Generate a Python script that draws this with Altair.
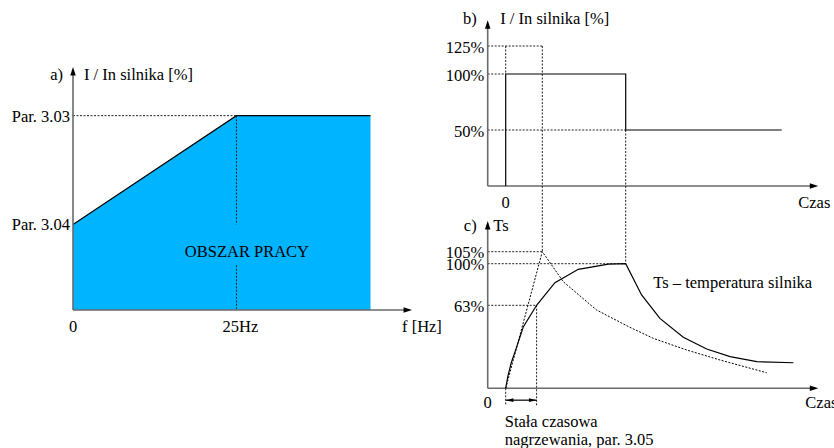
import altair as alt
import pandas as pd

FONT = "Liberation Serif"
FONT_SIZE = 16.5
INK = "black"
AXIS_GREY = "#6a6a6a"
FILL = "#00B4FF"
DOTS = [2, 1.5]

# ---------------- a) operating area: current limit vs. frequency ----------------
a_freq = [0, 25, 45.5]            # Hz
a_limit = [44, 100, 100]          # % of motor In (Par. 3.04 -> Par. 3.03)
a_tick_values = [100, 44]
a_tick_labels = ["Par. 3.03", "Par. 3.04"]
a_knee = 25
a_axis_f_end = 51.85
a_axis_i_end = 125

# ---------------- b) motor current over time ----------------
b_time = [0, 0, 40, 40, 92]
b_current = [0, 100, 100, 50, 50]
b_overload = 125
b_overload_end = 12.2
b_tick_values = [125, 100, 50]
b_tick_labels = ["125%", "100%", "50%"]

# ---------------- c) motor temperature over time ----------------
c_time = [0, 0.7, 1.8, 3.7, 5.9, 10.3, 16.4, 24.2, 34.2, 40,
          45.3, 51.4, 59.2, 67, 74.8, 83.7, 95.9]
c_temp = [0, 8.8, 19, 31.6, 46.8, 63, 83.1, 95, 99.7, 100,
          72.2, 53.1, 38.7, 29.8, 24, 20.2, 19.4]
c_over_time = [0, 12.2, 19.2, 30.3, 41.4, 49.2, 60.3, 71.4, 87]
c_over_temp = [0, 105, 84, 59.4, 46.3, 37.9, 29.1, 21.5, 11.8]
c_tau = 10.3
c_tick_values = [105, 100, 63]
c_tick_labels = ["105%", "100%", "63%"]

t_axis_start, t_axis_end = -6, 104.2
b_axis_top = 148
c_axis_top = 126

# ---------------- scales (each panel has its own placement) ----------------
XA = alt.Scale(domain=[0, 52], range=[73, 413], nice=False, zero=False)
YA = alt.Scale(domain=[0, 124], range=[310, 69], nice=False, zero=False)
XT = alt.Scale(domain=[-6, 104], range=[487.7, 817.7], nice=False, zero=False)
YB = alt.Scale(domain=[0, 150], range=[186, 18], nice=False, zero=False)
YC = alt.Scale(domain=[-16, 0, 63, 100, 105, 150],
               range=[409.4, 388.3, 305.3, 263.7, 251.7, 186], nice=False, zero=False)

UP = "M0,0L-0.65,2L0.65,2Z"
RIGHT = "M0,0L-2,-0.65L-2,0.65Z"
LEFT_SMALL = "M0,0L2,-0.47L2,0.47Z"
RIGHT_SMALL = "M0,0L-2,-0.47L-2,0.47Z"


def X(scale, field="x"):
    return alt.X(f"{field}:Q", scale=scale, axis=None)


def Y(scale, field="y"):
    return alt.Y(f"{field}:Q", scale=scale, axis=None)


def segments(rows, xs, ys, **style):
    df = pd.DataFrame(rows, columns=["x", "y", "x2", "y2"])
    return alt.Chart(df).mark_rule(**style).encode(
        x=X(xs), y=Y(ys), x2="x2:Q", y2="y2:Q")


def dotted(rows, xs, ys):
    return segments(rows, xs, ys, color="#222", strokeWidth=1, strokeDash=DOTS)


def axes(rows, xs, ys):
    return segments(rows, xs, ys, color=AXIS_GREY, strokeWidth=1.6)


def polyline(xv, yv, xs, ys, dash=None):
    df = pd.DataFrame({"x": xv, "y": yv, "i": range(len(xv))})
    kw = dict(color=INK, strokeWidth=1.2)
    if dash:
        kw["strokeDash"] = dash
        kw["strokeWidth"] = 1
    return alt.Chart(df).mark_line(**kw).encode(x=X(xs), y=Y(ys), order="i:Q")


def arrows(points, shape, xs, ys, size=72):
    df = pd.DataFrame(points, columns=["x", "y"])
    return alt.Chart(df).mark_point(shape=shape, size=size, filled=True, color=INK,
                                    opacity=1, strokeWidth=0).encode(x=X(xs), y=Y(ys))


def text(xv, yv, labels, xs, ys, align="left", dx=0, dy=0):
    df = pd.DataFrame({"x": xv, "y": yv, "t": labels})
    return alt.Chart(df).mark_text(font=FONT, fontSize=FONT_SIZE, color=INK, align=align,
                                   baseline="middle", dx=dx, dy=dy).encode(
        x=X(xs), y=Y(ys), text="t:N")


layers = []

# ---- panel a ----
area_df = pd.DataFrame({"x": a_freq, "y": a_limit, "base": [0] * len(a_freq)})
layers.append(alt.Chart(area_df).mark_area(color=FILL, opacity=1).encode(
    x=X(XA), y=Y(YA), y2="base:Q"))
layers.append(polyline(a_freq, a_limit, XA, YA))
layers.append(dotted([(0, a_limit[-1], a_knee, a_limit[-1]),
                      (a_knee, 100, a_knee, 44),
                      (a_knee, 23, a_knee, 0)], XA, YA))
layers.append(axes([(0, 0, 0, a_axis_i_end - 3), (0, 0, a_axis_f_end - 1, 0)], XA, YA))
layers.append(arrows([(0, a_axis_i_end)], UP, XA, YA))
layers.append(arrows([(a_axis_f_end, 0)], RIGHT, XA, YA))
layers.append(text([0], [121], ["a)"], XA, YA, align="right", dx=-10))
layers.append(text([0], [121], ["I / In silnika [%]"], XA, YA, dx=11))
layers.append(text([0] * 2, a_tick_values, a_tick_labels, XA, YA, align="right", dx=-3, dy=1))
layers.append(text([0], [0], ["0"], XA, YA, align="center", dy=17))
layers.append(text([a_knee], [0], ["25Hz"], XA, YA, align="center", dx=4, dy=17))
layers.append(text([a_axis_f_end], [0], ["f [Hz]"], XA, YA, dx=-10, dy=17))
layers.append(text([26.6], [30], ["OBSZAR PRACY"], XA, YA, align="center"))

# ---- panel b ----
layers.append(dotted([(t_axis_start, b_overload, b_overload_end, b_overload),
                      (t_axis_start, 100, 0, 100),
                      (t_axis_start, 50, 40, 50),
                      (0, b_overload, 0, 100),
                      (b_overload_end, b_overload, b_overload_end, 0),
                      (40, 50, 40, 0)], XT, YB))
layers.append(axes([(t_axis_start, 0, t_axis_start, b_axis_top - 3),
                    (t_axis_start, 0, t_axis_end - 1, 0)], XT, YB))
layers.append(polyline(b_time, b_current, XT, YB))
layers.append(arrows([(t_axis_start, b_axis_top)], UP, XT, YB))
layers.append(arrows([(t_axis_end, 0)], RIGHT, XT, YB))
layers.append(text([t_axis_start], [b_axis_top], ["b)"], XT, YB, align="right", dx=-11, dy=-1))
layers.append(text([t_axis_start], [b_axis_top], ["I / In silnika [%]"], XT, YB, dx=12.5, dy=-1))
layers.append(text([t_axis_start] * 3, b_tick_values, b_tick_labels, XT, YB,
                   align="right", dx=-3.5, dy=1.5))
layers.append(text([0], [0], ["0"], XT, YB, align="center", dy=17))
layers.append(text([t_axis_end], [0], ["Czas"], XT, YB, align="center", dx=-4, dy=17))

# ---- panel c ----
layers.append(dotted([(t_axis_start, 105, b_overload_end, 105),
                      (t_axis_start, 100, 40, 100),
                      (t_axis_start, 63, c_tau, 63),
                      (b_overload_end, 150, b_overload_end, 105),
                      (40, 150, 40, 100),
                      (c_tau, 63, c_tau, -13),
                      (0, 0, 0, -13)], XT, YC))
layers.append(axes([(t_axis_start, 0, t_axis_start, c_axis_top - 3),
                    (t_axis_start, 0, t_axis_end - 1, 0)], XT, YC))
layers.append(polyline(c_over_time, c_over_temp, XT, YC, dash=DOTS))
layers.append(polyline(c_time, c_temp, XT, YC))
layers.append(arrows([(t_axis_start, c_axis_top)], UP, XT, YC))
layers.append(arrows([(t_axis_end, 0)], RIGHT, XT, YC))
layers.append(segments([(0, -9, c_tau, -9)], XT, YC, color=INK, strokeWidth=1.2))
layers.append(arrows([(0, -9)], LEFT_SMALL, XT, YC, size=59))
layers.append(arrows([(c_tau, -9)], RIGHT_SMALL, XT, YC, size=59))
layers.append(text([t_axis_start], [c_axis_top], ["c)"], XT, YC, align="right", dx=-11, dy=5))
layers.append(text([t_axis_start], [c_axis_top], ["Ts"], XT, YC, dx=5.5, dy=5))
layers.append(text([t_axis_start] * 3, c_tick_values, c_tick_labels, XT, YC,
                   align="right", dx=-3.5, dy=1.5))
layers.append(text([t_axis_start], [0], ["0"], XT, YC, align="center", dy=15))
layers.append(text([t_axis_end], [0], ["Czas"], XT, YC, dx=-13, dy=15))
layers.append(text([49.2], [82.6], ["Ts – temperatura silnika"], XT, YC))
layers.append(text([0], [0], ["Stała czasowa"], XT, YC, dx=-1, dy=33.5))
layers.append(text([0], [0], ["nagrzewania, par. 3.05"], XT, YC, dx=-1, dy=52))

chart = (
    alt.layer(*layers)
    .resolve_scale(x="independent", y="independent")
    .properties(width=834, height=448, autosize=alt.AutoSizeParams(type="none"),
                padding=0, background="white")
    .configure_view(stroke=None)
)

chart.save("out.html", embed_options={"renderer": "svg", "actions": False})
